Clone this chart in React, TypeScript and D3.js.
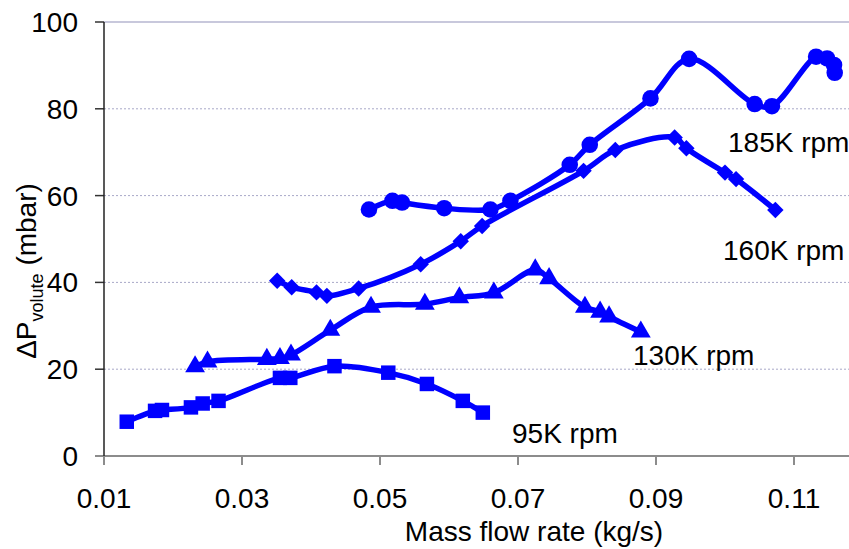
import React from "react";
import * as d3 from "d3";

const s95x = [0.0133, 0.0174, 0.0184, 0.0226, 0.0243, 0.0266, 0.0355, 0.037, 0.0434, 0.0512, 0.0568, 0.062, 0.0649];
const s95y = [7.9, 10.4, 10.6, 11.2, 12.1, 12.7, 18.0, 18.0, 20.7, 19.2, 16.6, 12.7, 10.0];

const s130x = [0.0232, 0.025, 0.0336, 0.0355, 0.0371, 0.0428, 0.0487, 0.0565, 0.0615, 0.0665, 0.0725, 0.0745, 0.0797, 0.0819, 0.0832, 0.0878];
const s130y = [20.6, 21.7, 22.3, 22.5, 23.3, 29.0, 34.3, 35.0, 36.5, 37.6, 42.9, 40.9, 34.3, 33.2, 32.1, 28.6];

const s160x = [0.0351, 0.0372, 0.0408, 0.0423, 0.0469, 0.0559, 0.0617, 0.0648, 0.0795, 0.0841, 0.0927, 0.0944, 0.1, 0.1016, 0.1073];
const s160y = [40.4, 38.9, 37.7, 36.9, 38.6, 44.2, 49.5, 53.0, 65.7, 70.5, 73.4, 70.9, 65.3, 63.8, 56.7];

const s185x = [0.0484, 0.0518, 0.0532, 0.0593, 0.066, 0.0689, 0.0775, 0.0804, 0.0892, 0.0948, 0.1043, 0.1068, 0.1132, 0.1148, 0.1158, 0.1159];
const s185y = [56.8, 58.8, 58.4, 57.1, 56.8, 58.8, 67.1, 71.7, 82.4, 91.5, 81.1, 80.6, 92.0, 91.6, 90.1, 88.3];

const seriesNames = ["95K rpm", "130K rpm", "160K rpm", "185K rpm"];
const xTicks = [0.01, 0.03, 0.05, 0.07, 0.09, 0.11];
const yTicks = [0, 20, 40, 60, 80, 100];

const W = 849;
const H = 549;
const BLUE = "#0000FF";
const FONT = "'Liberation Sans', Arial, sans-serif";

export default function App() {
  const x = d3.scaleLinear().domain([0.01, 0.12]).range([104, 863]);
  const y = d3.scaleLinear().domain([0, 100]).range([456, 22]);

  const series = [
    { name: seriesNames[0], xs: s95x, ys: s95y, sym: d3.symbolSquare, size: 210, rot: 0, lx: 512, ly: 443 },
    { name: seriesNames[1], xs: s130x, ys: s130y, sym: d3.symbolTriangle, size: 170, rot: 0, lx: 633, ly: 365 },
    { name: seriesNames[2], xs: s160x, ys: s160y, sym: d3.symbolSquare, size: 135, rot: 45, lx: 723, ly: 260 },
    { name: seriesNames[3], xs: s185x, ys: s185y, sym: d3.symbolCircle, size: 215, rot: 0, lx: 728, ly: 152 },
  ];

  const line = d3
    .line<[number, number]>()
    .x((d) => x(d[0]))
    .y((d) => y(d[1]))
    .curve(d3.curveCatmullRom.alpha(0.5));

  return (
    <svg width={W} height={H} style={{ position: "absolute", left: 0, top: 0, background: "#fff" }} fontFamily={FONT}>
      {/* gridlines */}
      {yTicks.filter((t) => t > 0 && t < 100).map((t) => (
        <line key={t} x1={104} x2={W} y1={y(t)} y2={y(t)} stroke="#A8A8C8" strokeWidth={1} strokeDasharray="2,2" />
      ))}
      <line x1={104} x2={W} y1={y(100)} y2={y(100)} stroke="#C8C8DC" strokeWidth={2} />

      {/* axes */}
      <line x1={95} x2={W} y1={y(0)} y2={y(0)} stroke="#8C8C8C" strokeWidth={2} />
      {xTicks.map((t) => (
        <line key={t} x1={x(t)} x2={x(t)} y1={y(0)} y2={y(0) + 9} stroke="#8C8C8C" strokeWidth={2} />
      ))}
      {yTicks.filter((t) => t > 0).map((t) => (
        <line key={t} x1={95} x2={104} y1={y(t)} y2={y(t)} stroke="#333" strokeWidth={1.5} />
      ))}
      <line x1={104} x2={104} y1={y(100)} y2={y(0)} stroke="#222" strokeWidth={1.5} />

      {/* tick labels */}
      {xTicks.map((t) => (
        <text key={t} x={x(t)} y={508} textAnchor="middle" fontSize={28} fill="#000">
          {t.toFixed(2)}
        </text>
      ))}
      {yTicks.map((t) => (
        <text key={t} x={78} y={y(t) + 10} textAnchor="end" fontSize={28} fill="#000">
          {t}
        </text>
      ))}

      {/* axis titles */}
      <text x={534} y={541} textAnchor="middle" fontSize={28} fill="#000">
        Mass flow rate (kg/s)
      </text>
      <text transform={`translate(36,271) rotate(-90)`} textAnchor="middle" fontSize={28} fill="#000">
        ΔP
        <tspan fontSize={18} dy={7}>volute</tspan>
        <tspan dy={-7}> (mbar)</tspan>
      </text>

      {/* series */}
      {series.map((s) => {
        const pts: [number, number][] = s.xs.map((v, i) => [v, s.ys[i]]);
        const sym = d3.symbol().type(s.sym).size(s.size)() || "";
        return (
          <g key={s.name}>
            <path d={line(pts) || ""} fill="none" stroke={BLUE} strokeWidth={5.5} strokeLinejoin="round" />
            {pts.map((p, i) => (
              <path key={i} d={sym} fill={BLUE} transform={`translate(${x(p[0])},${y(p[1])}) rotate(${s.rot})`} />
            ))}
            <text x={s.lx} y={s.ly} fontSize={28} fill="#000">
              {s.name}
            </text>
          </g>
        );
      })}
    </svg>
  );
}
